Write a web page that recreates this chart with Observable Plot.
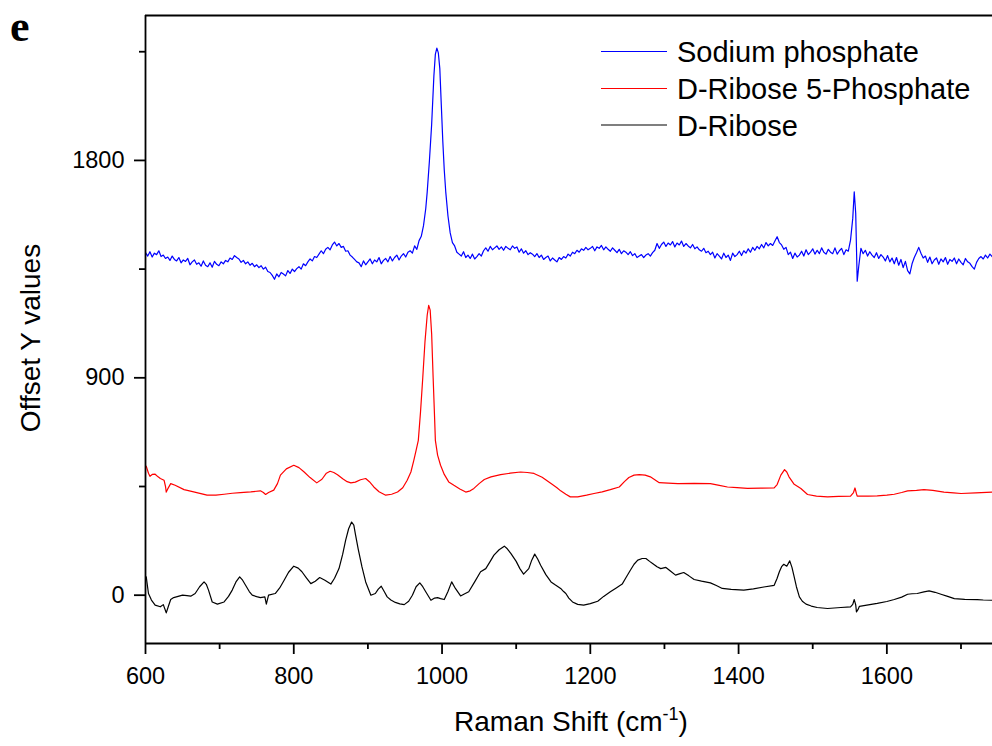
<!DOCTYPE html>
<html>
<head>
<meta charset="utf-8">
<script src="https://cdn.jsdelivr.net/npm/d3@7"></script>
<script src="https://cdn.jsdelivr.net/npm/@observablehq/plot@0.6"></script>
<style>
  html, body { margin: 0; padding: 0; background: #fff; }
  #chart { width: 992px; height: 746px; }
  svg { display: block; }
</style>
</head>
<body>
<div id="chart"></div>
<script>
// ---- Data ----
const seriesNames = ["Sodium phosphate", "D-Ribose 5-Phosphate", "D-Ribose"];
const seriesColors = ["#0000ff", "#ff0000", "#000000"];

const xMajorTicks = [600, 800, 1000, 1200, 1400, 1600];
const xMinorTicks = [700, 900, 1100, 1300, 1500, 1700];
const yMajorTicks = [0, 900, 1800];
const yMinorTicks = [450, 1350, 2250];

// Sodium phosphate (blue) [Raman shift, offset intensity]
const sodiumPhosphate = [
[600,1418],[603,1404],[606,1422],[609,1400],[612,1416],[615,1410],[618,1426],[621,1402],[624,1408],[627,1394],
[630,1400],[633,1386],[636,1404],[639,1390],[642,1384],[645,1398],[648,1376],[651,1388],[654,1382],[657,1394],
[660,1368],[663,1380],[666,1388],[669,1370],[672,1376],[675,1362],[678,1384],[681,1366],[684,1360],[687,1376],
[690,1358],[693,1382],[696,1370],[699,1364],[702,1380],[705,1372],[708,1386],[711,1380],[714,1396],[717,1390],
[720,1406],[723,1398],[726,1392],[729,1378],[732,1386],[735,1372],[738,1380],[741,1366],[744,1374],[747,1360],
[750,1368],[753,1356],[756,1364],[759,1350],[762,1358],[765,1340],[768,1336],[771,1324],[774,1308],[777,1330],
[780,1318],[783,1336],[786,1330],[789,1322],[792,1344],[795,1332],[798,1350],[801,1340],[804,1352],[807,1360],
[810,1350],[813,1372],[816,1364],[819,1380],[822,1392],[825,1384],[828,1402],[831,1398],[834,1412],[837,1426],
[840,1414],[843,1432],[846,1440],[849,1430],[852,1450],[855,1462],[858,1446],[861,1456],[864,1440],[867,1444],
[870,1424],[873,1426],[876,1408],[879,1400],[882,1390],[885,1380],[888,1376],[891,1360],[894,1384],[897,1368],
[900,1380],[903,1392],[906,1372],[909,1388],[912,1380],[915,1398],[918,1372],[921,1386],[924,1394],[927,1380],
[930,1402],[933,1384],[936,1398],[939,1408],[942,1388],[945,1404],[948,1414],[951,1400],[954,1420],[957,1426],
[960,1416],[963,1446],[966,1432],[969,1468],[972,1486],[975,1530],[978,1600],[980,1670],[983,1800],[986,1950],
[989,2150],[991,2240],[993,2265],[995,2245],[997,2180],[999,2030],[1001,1880],[1003,1760],[1005,1670],[1008,1570],
[1011,1500],[1014,1460],[1017,1446],[1020,1420],[1023,1412],[1026,1404],[1029,1422],[1032,1398],[1035,1408],[1038,1394],
[1041,1412],[1044,1392],[1047,1402],[1050,1414],[1053,1404],[1056,1426],[1059,1438],[1062,1424],[1065,1444],[1068,1430],
[1071,1438],[1074,1446],[1077,1432],[1080,1442],[1083,1428],[1086,1444],[1089,1436],[1092,1430],[1095,1446],[1098,1436],
[1101,1442],[1104,1420],[1107,1434],[1110,1416],[1113,1426],[1116,1410],[1119,1418],[1122,1412],[1125,1402],[1128,1414],
[1131,1398],[1134,1408],[1137,1390],[1140,1398],[1143,1404],[1146,1384],[1149,1396],[1152,1388],[1155,1380],[1158,1398],
[1161,1390],[1164,1402],[1167,1396],[1170,1412],[1173,1404],[1176,1420],[1179,1414],[1182,1428],[1185,1420],[1188,1434],
[1191,1428],[1194,1440],[1197,1430],[1200,1436],[1203,1444],[1206,1426],[1209,1442],[1212,1436],[1215,1448],[1218,1430],
[1221,1442],[1224,1432],[1227,1424],[1230,1438],[1233,1428],[1236,1418],[1239,1432],[1242,1414],[1245,1426],[1248,1420],
[1251,1410],[1254,1422],[1257,1406],[1260,1414],[1263,1398],[1266,1404],[1269,1410],[1272,1398],[1275,1408],[1278,1414],
[1281,1404],[1284,1418],[1287,1428],[1290,1456],[1293,1436],[1296,1452],[1299,1462],[1302,1444],[1305,1458],[1308,1450],
[1311,1464],[1314,1442],[1317,1458],[1320,1450],[1323,1466],[1326,1444],[1329,1456],[1332,1446],[1335,1438],[1338,1452],
[1341,1434],[1344,1442],[1347,1430],[1350,1424],[1353,1436],[1356,1418],[1359,1424],[1362,1410],[1365,1420],[1368,1396],
[1371,1414],[1374,1404],[1377,1392],[1380,1416],[1383,1398],[1386,1408],[1389,1386],[1392,1416],[1395,1402],[1398,1410],
[1401,1424],[1404,1406],[1407,1426],[1410,1416],[1413,1434],[1416,1420],[1419,1440],[1422,1428],[1425,1444],[1428,1434],
[1431,1452],[1434,1438],[1437,1460],[1440,1446],[1443,1456],[1446,1448],[1449,1466],[1452,1484],[1455,1460],[1458,1450],
[1461,1432],[1464,1440],[1467,1410],[1470,1420],[1473,1394],[1476,1416],[1479,1400],[1482,1408],[1485,1424],[1488,1404],
[1491,1430],[1494,1410],[1497,1420],[1500,1434],[1503,1412],[1506,1428],[1509,1414],[1512,1438],[1515,1420],[1518,1412],
[1521,1432],[1524,1420],[1527,1414],[1530,1438],[1533,1412],[1536,1426],[1539,1436],[1542,1410],[1545,1430],[1548,1424],
[1551,1470],[1554,1560],[1556,1670],[1558,1580],[1560,1300],[1562,1360],[1565,1436],[1568,1414],[1571,1428],[1574,1404],
[1577,1422],[1580,1408],[1583,1398],[1586,1418],[1589,1394],[1592,1410],[1595,1400],[1598,1384],[1601,1406],[1604,1380],
[1607,1396],[1610,1372],[1613,1398],[1616,1366],[1619,1390],[1622,1356],[1625,1382],[1628,1344],[1631,1330],[1634,1372],
[1637,1398],[1640,1418],[1643,1440],[1646,1416],[1649,1396],[1652,1404],[1655,1378],[1658,1400],[1661,1372],[1664,1388],
[1667,1396],[1670,1370],[1673,1392],[1676,1380],[1679,1398],[1682,1370],[1685,1390],[1688,1382],[1691,1396],[1694,1372],
[1697,1392],[1700,1378],[1703,1368],[1706,1394],[1709,1380],[1712,1374],[1715,1360],[1718,1350],[1721,1378],[1724,1394],
[1727,1402],[1730,1392],[1733,1408],[1736,1396],[1739,1412],[1742,1402]
];

// D-Ribose 5-Phosphate (red)
const ribose5Phosphate = [
[601,534],[604,505],[606,492],[609,500],[613,501],[617,490],[620,483],[625,476],[627,450],[628,427],
[630,440],[634,462],[640,455],[652,437],[665,428],[683,414],[695,414],[706,418],[717,422],[728,425],
[742,428],[755,432],[759,425],[762,417],[766,425],[773,435],[778,462],[782,497],[790,523],[800,538],
[807,528],[814,510],[822,487],[831,465],[838,480],[844,505],[849,513],[854,508],[859,499],[866,482],
[872,470],[877,465],[883,468],[890,478],[897,483],[902,470],[908,448],[915,428],[924,414],[932,418],
[940,427],[947,445],[953,476],[958,510],[962,559],[965,600],[968,641],[971,760],[974,900],[977,1050],
[980,1160],[982,1200],[984,1180],[986,1080],[988,900],[990,730],[991,641],[994,580],[998,538],[1003,500],
[1009,469],[1016,455],[1024,440],[1032,427],[1038,432],[1043,442],[1050,462],[1057,479],[1066,490],[1079,499],
[1092,505],[1106,510],[1115,508],[1124,504],[1135,488],[1147,462],[1155,445],[1160,432],[1167,418],[1173,407],
[1183,407],[1195,414],[1205,421],[1216,428],[1227,437],[1239,448],[1246,470],[1252,487],[1259,497],[1266,499],
[1274,497],[1281,490],[1287,478],[1293,466],[1305,464],[1318,462],[1340,463],[1362,462],[1374,455],[1385,448],
[1398,445],[1412,442],[1430,443],[1448,444],[1452,458],[1457,497],[1462,520],[1465,510],[1468,490],[1475,459],
[1484,442],[1493,417],[1505,410],[1520,407],[1535,409],[1551,410],[1555,425],[1557,444],[1559,420],[1560,410],
[1575,410],[1587,411],[1600,414],[1610,418],[1620,425],[1628,432],[1640,434],[1650,437],[1662,434],[1677,427],
[1690,424],[1700,421],[1720,424],[1742,427]
];

// D-Ribose (black)
const dRibose = [
[601,76],[604,7],[608,-20],[613,-41],[620,-48],[624,-39],[628,-73],[631,-45],[634,-18],[638,-10],
[644,-5],[650,0],[656,-2],[661,-4],[667,7],[673,35],[679,55],[682,45],[685,21],[690,-28],
[697,-37],[706,-28],[712,-5],[717,21],[722,55],[727,76],[731,62],[735,41],[740,15],[744,0],
[750,-6],[755,-10],[761,-7],[763,-37],[766,0],[775,7],[781,30],[787,62],[793,95],[800,120],
[806,112],[811,97],[817,72],[823,48],[829,58],[835,73],[842,62],[850,46],[855,70],[861,110],
[866,170],[870,228],[874,275],[878,303],[881,290],[883,255],[887,190],[892,117],[897,55],[904,0],
[910,7],[914,25],[918,37],[922,15],[926,-7],[931,-20],[937,-30],[943,-36],[949,-39],[955,-25],
[960,0],[965,35],[970,51],[974,35],[978,14],[985,-21],[990,-12],[994,-10],[998,-14],[1003,-18],
[1008,15],[1013,55],[1018,28],[1025,-3],[1030,5],[1036,14],[1044,55],[1052,97],[1059,110],[1065,140],
[1070,166],[1077,188],[1084,203],[1088,192],[1093,172],[1100,140],[1105,110],[1110,87],[1117,110],[1121,145],
[1125,170],[1129,150],[1133,124],[1140,85],[1147,55],[1153,42],[1160,28],[1164,15],[1167,7],[1171,-12],
[1176,-28],[1183,-38],[1191,-41],[1200,-35],[1210,-25],[1218,-5],[1227,14],[1235,30],[1243,46],[1248,72],
[1254,103],[1259,128],[1264,145],[1270,152],[1275,152],[1280,140],[1284,131],[1290,118],[1295,110],[1302,115],
[1308,100],[1315,83],[1320,88],[1326,94],[1333,80],[1340,65],[1350,58],[1362,51],[1370,40],[1378,28],
[1390,24],[1407,21],[1420,26],[1434,34],[1448,41],[1452,70],[1455,97],[1458,118],[1461,128],[1465,120],
[1469,142],[1472,115],[1475,76],[1478,35],[1482,-7],[1486,-25],[1491,-37],[1498,-45],[1506,-51],[1520,-55],
[1538,-51],[1551,-48],[1554,-38],[1556,-18],[1558,-40],[1559,-69],[1561,-60],[1563,-46],[1575,-40],[1587,-34],
[1600,-26],[1610,-18],[1620,-8],[1628,4],[1634,6],[1641,7],[1650,14],[1657,18],[1665,12],[1673,4],
[1682,-5],[1691,-14],[1705,-17],[1722,-18],[1730,-20],[1742,-21]
];

const xDomain = [600, 1742.5];
const yDomain = [-200, 2400];

const seriesData = [sodiumPhosphate, ribose5Phosphate, dRibose];
const rows = seriesData.flatMap((arr, i) => arr.map(([x, y]) => ({x, y, s: seriesNames[i]})));

const FONT = "'Liberation Sans', Arial, Helvetica, sans-serif";
const AXW = 1.8;

const chart = Plot.plot({
  width: 992,
  height: 746,
  marginLeft: 145,
  marginRight: 0,
  marginTop: 15,
  marginBottom: 103,
  style: { fontFamily: FONT, background: "#fff", color: "#000", overflow: "visible" },
  x: { domain: xDomain, axis: null },
  y: { domain: yDomain, axis: null },
  color: { domain: seriesNames, range: seriesColors },
  marks: [
    Plot.line(rows, { x: "x", y: "y", z: "s", stroke: "s", strokeWidth: 1.2, clip: true }),
    // frame: left, bottom, top
    Plot.ruleX([xDomain[0]], { stroke: "#000", strokeWidth: AXW }),
    Plot.ruleY([yDomain[0]], { stroke: "#000", strokeWidth: AXW }),
    Plot.ruleY([yDomain[1]], { stroke: "#000", strokeWidth: AXW }),
    Plot.axisX({ ticks: xMajorTicks, tickSize: 11, tickPadding: 13, fontSize: 23.5, tickFormat: d => String(d), label: null, strokeWidth: AXW }),
    Plot.axisX({ ticks: xMinorTicks, tickSize: 6, text: null, label: null, strokeWidth: AXW }),
    Plot.axisY({ ticks: yMajorTicks, tickSize: 11, tickPadding: 10, fontSize: 23.5, tickFormat: d => String(d), label: null, strokeWidth: AXW }),
    Plot.axisY({ ticks: yMinorTicks, tickSize: 6, text: null, label: null, strokeWidth: AXW })
  ]
});

document.getElementById("chart").appendChild(chart);

const svg = d3.select(chart);

// x axis title with superscript
const xt = svg.append("text")
  .attr("x", 571).attr("y", 731)
  .attr("text-anchor", "middle")
  .style("font-family", FONT).style("font-size", "28px").attr("fill", "#000");
xt.append("tspan").text("Raman Shift (cm");
xt.append("tspan").attr("dy", -11).style("font-size", "18px").text("-1");
xt.append("tspan").attr("dy", 11).text(")");

// y axis title
svg.append("text")
  .attr("transform", "translate(40,338) rotate(-90)")
  .attr("text-anchor", "middle")
  .style("font-family", FONT).style("font-size", "28px").attr("fill", "#000")
  .text("Offset Y values");

// panel letter
svg.append("text")
  .attr("x", 10).attr("y", 41)
  .attr("text-anchor", "start")
  .style("font-family", "'Liberation Serif', 'Times New Roman', serif")
  .style("font-size", "44px").style("font-weight", "bold").attr("fill", "#000")
  .text("e");

// legend
const legendY = [51.5, 88.5, 125];
const lg = svg.append("g").attr("text-anchor", "start");
seriesNames.forEach((name, i) => {
  lg.append("line")
    .attr("x1", 601).attr("x2", 667)
    .attr("y1", legendY[i]).attr("y2", legendY[i])
    .attr("stroke", seriesColors[i]).attr("stroke-width", 1.1);
  lg.append("text")
    .attr("x", 677).attr("y", legendY[i] + 10.5)
    .attr("text-anchor", "start")
    .style("font-family", FONT).style("font-size", "29px").attr("fill", "#000")
    .text(name);
});
</script>
</body>
</html>
